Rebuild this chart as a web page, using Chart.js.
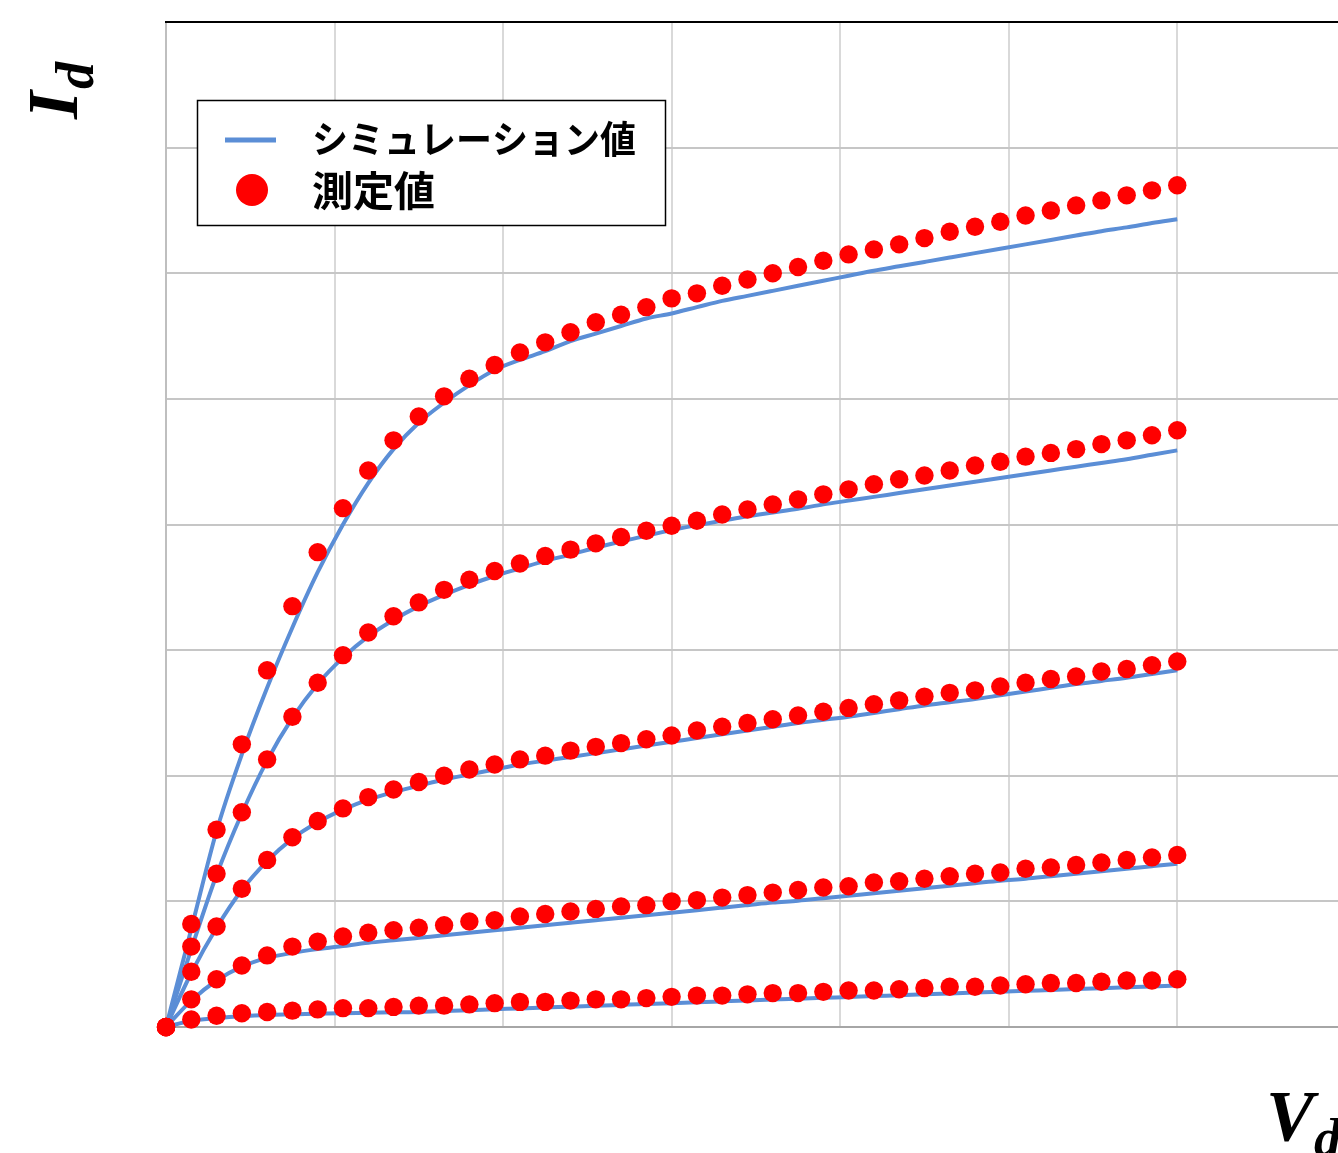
<!DOCTYPE html>
<html lang="ja">
<head>
<meta charset="UTF-8">
<title>Id-Vd 特性</title>
<script src="https://cdn.jsdelivr.net/npm/chart.js@4.4.1/dist/chart.umd.min.js"></script>
<style>
  html, body { margin: 0; padding: 0; background: #fff; overflow: hidden; }
  #wrap { position: absolute; left: 0; top: 0; width: 1355px; height: 1153px; }
</style>
</head>
<body>
<div id="wrap"><canvas id="ivChart" width="1355" height="1153"></canvas></div>
<script>
// drain voltage (x), same for every curve
const vd = [0, 0.15, 0.3, 0.45, 0.6, 0.75, 0.9, 1.05, 1.2, 1.35, 1.5, 1.65, 1.8, 1.95, 2.1, 2.25, 2.4, 2.55, 2.7, 2.85,
            3.0, 3.15, 3.3, 3.45, 3.6, 3.75, 3.9, 4.05, 4.2, 4.35, 4.5, 4.65, 4.8, 4.95, 5.1, 5.25, 5.4, 5.55, 5.7, 5.85, 6.0];

// measured values (red dots), top curve first
const meas1 = [0, 0.82, 1.57, 2.25, 2.84, 3.35, 3.78, 4.13, 4.43, 4.67, 4.86, 5.02, 5.16, 5.27, 5.37, 5.45, 5.53, 5.61, 5.67, 5.73,
               5.80, 5.84, 5.90, 5.95, 6.00, 6.05, 6.10, 6.15, 6.19, 6.23, 6.28, 6.33, 6.37, 6.41, 6.46, 6.50, 6.54, 6.58, 6.62, 6.66, 6.70];
const meas2 = [0, 0.64, 1.22, 1.71, 2.13, 2.47, 2.74, 2.96, 3.14, 3.27, 3.38, 3.48, 3.56, 3.63, 3.69, 3.75, 3.80, 3.85, 3.90, 3.95,
               3.99, 4.03, 4.08, 4.12, 4.16, 4.20, 4.24, 4.28, 4.32, 4.36, 4.39, 4.43, 4.47, 4.50, 4.54, 4.57, 4.60, 4.64, 4.67, 4.71, 4.75];
const meas3 = [0, 0.44, 0.80, 1.10, 1.33, 1.51, 1.64, 1.74, 1.83, 1.89, 1.95, 2.00, 2.05, 2.09, 2.13, 2.16, 2.20, 2.23, 2.26, 2.29,
               2.32, 2.36, 2.39, 2.42, 2.45, 2.48, 2.51, 2.54, 2.57, 2.60, 2.63, 2.66, 2.68, 2.71, 2.74, 2.77, 2.79, 2.83, 2.85, 2.88, 2.91];
const meas4 = [0, 0.22, 0.38, 0.49, 0.57, 0.64, 0.68, 0.72, 0.75, 0.77, 0.79, 0.81, 0.84, 0.85, 0.88, 0.90, 0.92, 0.94, 0.96, 0.97,
               1.00, 1.01, 1.03, 1.05, 1.07, 1.09, 1.11, 1.12, 1.15, 1.16, 1.18, 1.20, 1.22, 1.23, 1.26, 1.27, 1.29, 1.31, 1.33, 1.35, 1.37];
const meas5 = [0, 0.06, 0.09, 0.11, 0.12, 0.13, 0.14, 0.15, 0.15, 0.16, 0.17, 0.17, 0.18, 0.19, 0.20, 0.20, 0.21, 0.22, 0.22, 0.23,
               0.24, 0.25, 0.25, 0.26, 0.27, 0.27, 0.28, 0.29, 0.29, 0.30, 0.31, 0.32, 0.32, 0.33, 0.34, 0.35, 0.35, 0.36, 0.37, 0.37, 0.38];

// simulation values (blue lines)
const sim1 = [0, 0.78, 1.56, 2.17, 2.70, 3.18, 3.62, 4.00, 4.33, 4.60, 4.81, 4.97, 5.11, 5.23, 5.31, 5.38, 5.46, 5.52, 5.58, 5.64,
              5.68, 5.73, 5.78, 5.82, 5.86, 5.90, 5.94, 5.98, 6.02, 6.055, 6.09, 6.125, 6.16, 6.195, 6.23, 6.265, 6.30, 6.335, 6.365, 6.40, 6.43];
const sim2 = [0, 0.62, 1.21, 1.70, 2.12, 2.46, 2.73, 2.94, 3.11, 3.24, 3.35, 3.44, 3.52, 3.59, 3.65, 3.71, 3.76, 3.815, 3.865, 3.91,
              3.955, 3.995, 4.03, 4.065, 4.095, 4.125, 4.16, 4.19, 4.22, 4.25, 4.28, 4.31, 4.34, 4.37, 4.40, 4.43, 4.46, 4.49, 4.52, 4.555, 4.59];
const sim3 = [0, 0.43, 0.79, 1.09, 1.32, 1.50, 1.63, 1.73, 1.81, 1.87, 1.92, 1.97, 2.01, 2.05, 2.09, 2.12, 2.15, 2.18, 2.21, 2.24,
              2.27, 2.30, 2.33, 2.36, 2.39, 2.42, 2.445, 2.47, 2.50, 2.53, 2.56, 2.585, 2.61, 2.64, 2.67, 2.70, 2.73, 2.755, 2.78, 2.81, 2.84];
const sim4 = [0, 0.21, 0.37, 0.48, 0.55, 0.59, 0.62, 0.645, 0.67, 0.69, 0.71, 0.73, 0.75, 0.77, 0.79, 0.81, 0.83, 0.85, 0.87, 0.89,
              0.91, 0.93, 0.95, 0.97, 0.99, 1.005, 1.025, 1.045, 1.065, 1.085, 1.105, 1.125, 1.145, 1.165, 1.18, 1.20, 1.22, 1.24, 1.26, 1.28, 1.30];
const sim5 = [0, 0.05, 0.07, 0.085, 0.095, 0.10, 0.105, 0.11, 0.113, 0.117, 0.12, 0.127, 0.134, 0.141, 0.148, 0.155, 0.162, 0.169, 0.176, 0.183,
              0.19, 0.197, 0.204, 0.211, 0.218, 0.225, 0.232, 0.239, 0.246, 0.253, 0.26, 0.267, 0.274, 0.281, 0.288, 0.295, 0.302, 0.309, 0.316, 0.323, 0.33];

const simLabel = 'シミュレーション値';
const measLabel = '測定値';
const simColor = '#5B8ED6';
const measColor = '#FF0000';

function toXY(ys) {
    return ys.map((y, i) => ({ x: vd[i], y: y }));
}

const datasets = [];
[sim1, sim2, sim3, sim4, sim5].forEach(s => {
    datasets.push({
        label: simLabel,
        data: toXY(s),
        showLine: true,
        borderColor: simColor,
        borderWidth: 4,
        pointRadius: 0,
        cubicInterpolationMode: 'monotone',
        fill: false,
        order: 2
    });
});
[meas1, meas2, meas3, meas4, meas5].forEach(m => {
    datasets.push({
        label: measLabel,
        data: toXY(m),
        showLine: false,
        pointRadius: 9.2,
        pointBackgroundColor: measColor,
        pointBorderWidth: 0,
        clip: false,
        order: 1
    });
});

// frame top line, boxed legend and the I_d / V_d titles
const decorations = {
    id: 'decorations',
    afterDraw(chart) {
        const ctx = chart.ctx;
        const area = chart.chartArea;
        ctx.save();

        ctx.strokeStyle = '#000';
        ctx.lineWidth = 2;
        ctx.beginPath();
        ctx.moveTo(area.left - 1, area.top);
        ctx.lineTo(area.right, area.top);
        ctx.stroke();

        // legend
        ctx.fillStyle = '#fff';
        ctx.fillRect(197, 100, 469, 126);
        ctx.lineWidth = 1.5;
        ctx.strokeRect(197.5, 100.5, 468, 125);

        ctx.strokeStyle = simColor;
        ctx.lineWidth = 5;
        ctx.beginPath();
        ctx.moveTo(225, 140);
        ctx.lineTo(276, 140);
        ctx.stroke();

        ctx.fillStyle = measColor;
        ctx.beginPath();
        ctx.arc(252, 190, 16, 0, Math.PI * 2);
        ctx.fill();

        ctx.fillStyle = '#000';
        ctx.textBaseline = 'middle';
        ctx.textAlign = 'left';
        ctx.font = 'bold 38px "Noto Sans CJK JP"';
        ctx.fillText(simLabel, 312, 139, 324);
        ctx.font = 'bold 41px "Noto Sans CJK JP"';
        ctx.fillText(measLabel, 312, 190);

        // axis titles
        ctx.textBaseline = 'alphabetic';
        ctx.save();
        ctx.translate(77, 119);
        ctx.rotate(-Math.PI / 2);
        ctx.font = 'bold italic 72px "Liberation Serif"';
        ctx.fillText('I', 0, 0);
        const wI = ctx.measureText('I').width;
        ctx.font = 'bold italic 54px "Liberation Serif"';
        ctx.fillText('d', wI + 2, 16);
        ctx.restore();

        ctx.font = 'bold italic 72px "Liberation Serif"';
        ctx.fillText('V', 1266, 1140);
        const wV = ctx.measureText('V').width;
        ctx.font = 'bold italic 54px "Liberation Serif"';
        ctx.fillText('d', 1266 + wV, 1156);

        ctx.restore();
    }
};

new Chart(document.getElementById('ivChart'), {
    type: 'scatter',
    data: { datasets: datasets },
    options: {
        responsive: false,
        animation: false,
        devicePixelRatio: 1,
        layout: { padding: { left: 166, top: 22, right: 0, bottom: 126 } },
        plugins: {
            legend: { display: false },
            tooltip: { enabled: false }
        },
        scales: {
            x: {
                type: 'linear',
                min: 0,
                max: 7,
                ticks: { display: false, stepSize: 1 },
                grid: { color: '#d9d9d9', lineWidth: 2, drawTicks: false },
                border: { color: '#a6a6a6', width: 2 }
            },
            y: {
                type: 'linear',
                min: 0,
                max: 8,
                ticks: { display: false, stepSize: 1 },
                grid: { color: '#c6c6c6', lineWidth: 2, drawTicks: false },
                border: { color: '#bfbfbf', width: 2 }
            }
        }
    },
    plugins: [decorations]
});
</script>
</body>
</html>
